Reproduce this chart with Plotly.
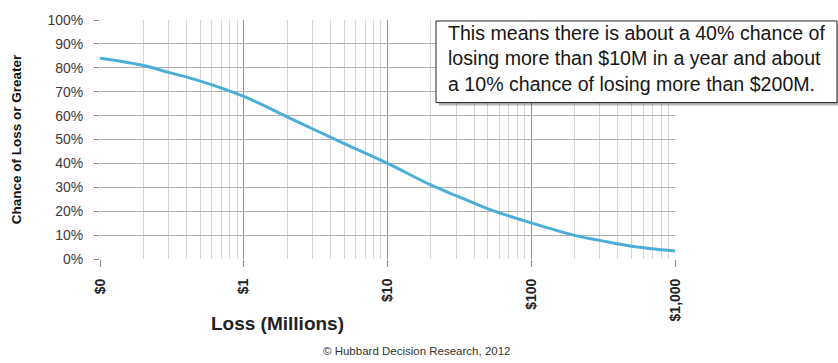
import plotly.graph_objects as go

# Loss-exceedance curve: probability that annual loss meets or exceeds each amount
loss_millions = [0.1, 0.2, 0.3, 0.5, 1, 2, 3, 5, 10, 20, 30, 50, 100, 200, 300, 500, 1000]
chance_exceed = [0.84, 0.81, 0.781, 0.744, 0.68, 0.595, 0.545, 0.483, 0.40, 0.31, 0.265,
                 0.21, 0.151, 0.099, 0.078, 0.053, 0.033]

x_tick_vals = [0.1, 1, 10, 100, 1000]
x_tick_text = ["$0", "$1", "$10", "$100", "$1,000"]

note_text = ("This means there is about a 40% chance of<br>"
             "losing more than $10M in a year and about<br>"
             "a 10% chance of losing more than $200M.")
credit_text = "© Hubbard Decision Research, 2012"

NARROW = "Liberation Sans Narrow, Arial Narrow, Liberation Sans, Arial, sans-serif"
REG = "Liberation Sans, Arial, sans-serif"

# plot-area pixel frame, used to place paper-referenced decorations
PX_L, PX_R, PX_T, PX_B = 100, 675, 16, 259


def px(x):
    return (x - PX_L) / (PX_R - PX_L)


def py(y):
    return (PX_B - y) / (PX_B - PX_T)


fig = go.Figure()
fig.add_trace(go.Scatter(
    x=loss_millions, y=chance_exceed, mode="lines",
    line=dict(color="#4aaed9", width=3, shape="spline", smoothing=1.0),
    hoverinfo="skip", showlegend=False,
))

# note box: soft drop shadow, then the white bordered panel
fig.add_shape(type="rect", xref="paper", yref="paper", layer="above",
              x0=px(439), x1=px(841), y0=py(20), y1=py(103),
              line=dict(width=0), fillcolor="rgba(0,0,0,0.28)")
fig.add_shape(type="rect", xref="paper", yref="paper", layer="above",
              x0=px(436), x1=px(837), y0=py(17), y1=py(100),
              line=dict(width=1, color="#222222"), fillcolor="white")

fig.update_layout(
    width=838, height=363,
    margin=dict(l=PX_L, r=838 - PX_R, t=PX_T, b=363 - PX_B),
    paper_bgcolor="white", plot_bgcolor="white",
    xaxis=dict(
        type="log", range=[-1, 3],
        tickvals=x_tick_vals, ticktext=x_tick_text,
        tickangle=-90, ticks="outside", ticklen=7, tickcolor="#888888",
        ticklabelstandoff=6,
        tickfont=dict(family=NARROW, size=14, color="#222222", weight="bold"),
        showgrid=True, gridcolor="#8f8f8f", gridwidth=1,
        minor=dict(dtick="D1", showgrid=True, gridcolor="#d6d6d6", gridwidth=1),
        showline=False, zeroline=False,
    ),
    yaxis=dict(
        range=[0, 1], dtick=0.1, tickformat=".0%",
        ticks="outside", ticklen=5, tickcolor="#888888",
        ticklabelstandoff=8,
        tickfont=dict(family=NARROW, size=14, color="#3a3a3a"),
        showgrid=True, gridcolor="#b0b0b0", gridwidth=1,
        showline=False, zeroline=False,
        title=dict(text="Chance of Loss or Greater", standoff=22,
                   font=dict(family=NARROW, size=13.5, color="#111111", weight="bold")),
    ),
    annotations=[
        dict(text=note_text, xref="paper", yref="paper",
             x=px(446), y=py(16),
             xanchor="left", yanchor="top", align="left", showarrow=False,
             font=dict(family=REG, size=19.6, color="#161616")),
        dict(text="Loss (Millions)", xref="paper", yref="paper",
             x=px(277), y=py(325),
             xanchor="center", yanchor="middle", showarrow=False,
             font=dict(family=NARROW, size=19, color="#222222", weight="bold")),
        dict(text=credit_text, xref="paper", yref="paper",
             x=px(416), y=py(353),
             xanchor="center", yanchor="middle", showarrow=False,
             font=dict(family=NARROW, size=11.5, color="#333333")),
    ],
)

fig.write_html("out.html")
